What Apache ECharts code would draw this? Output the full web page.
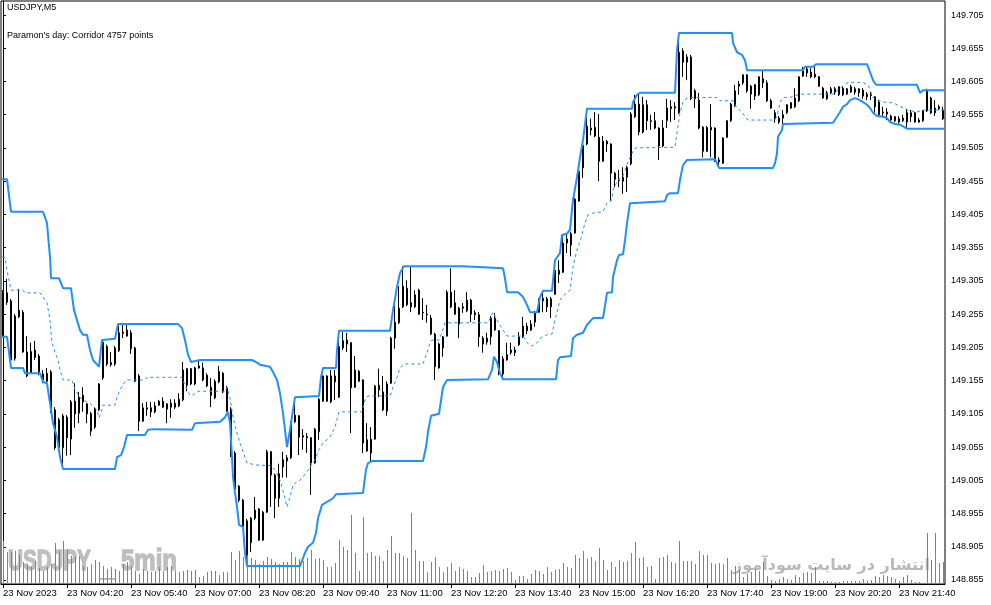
<!DOCTYPE html>
<html><head><meta charset="utf-8">
<script src="https://cdn.jsdelivr.net/npm/echarts@6/dist/echarts.min.js"></script>
<style>html,body{margin:0;padding:0;background:#fff;}#c{width:991px;height:605px;}</style>
</head><body><div id="c"></div>
<script>
const openPrices = [
149.249,149.287,149.275,149.188,149.251,149.258,149.198,149.166,149.201,149.192,
149.165,149.154,149.168,149.111,149.096,149.054,149.100,149.067,149.124,149.106,
149.133,149.120,149.105,149.085,149.111,149.159,149.206,149.182,149.180,149.200,
149.226,149.222,149.227,149.204,149.162,149.094,149.112,149.114,149.108,149.118,
149.124,149.112,149.121,149.115,149.117,149.126,149.148,149.173,149.150,149.177,
149.174,149.163,149.145,149.129,149.153,149.166,149.144,149.112,149.046,148.996,
148.975,148.944,148.911,148.960,148.962,148.915,148.957,149.048,149.013,148.978,
149.025,149.034,149.039,149.093,149.102,149.072,149.071,149.069,149.031,149.078,
149.124,149.162,149.123,149.153,149.130,149.204,149.216,149.212,149.145,149.169,
149.156,149.066,149.046,149.067,149.148,149.138,149.109,149.151,149.219,149.242,
149.266,149.269,149.272,149.266,149.291,149.258,149.255,149.249,149.225,149.174,
149.204,149.222,149.288,149.272,149.240,149.264,149.260,149.276,149.257,149.254,
149.219,149.213,149.221,149.231,149.230,149.165,149.186,149.197,149.197,149.209,
149.221,149.237,149.231,149.243,149.258,149.275,149.278,149.266,149.285,149.315,
149.318,149.368,149.359,149.377,149.425,149.475,149.511,149.532,149.536,149.521,
149.485,149.511,149.511,149.467,149.456,149.455,149.461,149.481,149.552,149.571,
149.529,149.570,149.546,149.546,149.535,149.508,149.546,149.564,149.567,149.558,
149.651,149.634,149.642,149.579,149.577,149.536,149.500,149.532,149.535,149.487,
149.482,149.521,149.546,149.568,149.601,149.603,149.615,149.586,149.600,149.585,
149.609,149.603,149.576,149.558,149.550,149.550,149.558,149.573,149.567,149.576,
149.613,149.624,149.619,149.612,149.612,149.595,149.579,149.588,149.594,149.585,
149.585,149.594,149.589,149.594,149.588,149.592,149.582,149.585,149.582,149.574,
149.559,149.556,149.553,149.552,149.549,149.546,149.558,149.552,149.558,149.547,
149.546,149.561,149.580,149.565,149.564,149.562];
const closePrices = [
149.287,149.273,149.186,149.252,149.261,149.198,149.162,149.199,149.190,149.166,
149.156,149.166,149.108,149.054,149.054,149.102,149.069,149.123,149.105,149.130,
149.123,149.105,149.079,149.112,149.150,149.213,149.180,149.179,149.204,149.227,
149.228,149.231,149.203,149.154,149.094,149.114,149.114,149.108,149.117,149.124,
149.115,149.120,149.115,149.121,149.127,149.171,149.173,149.150,149.174,149.174,
149.156,149.147,149.133,149.154,149.169,149.138,149.109,149.043,148.992,148.975,
148.935,148.893,148.948,148.948,148.915,148.957,149.048,149.013,148.978,149.015,
149.036,149.039,149.093,149.103,149.070,149.070,149.069,149.031,149.082,149.127,
149.162,149.124,149.162,149.162,149.206,149.215,149.210,149.144,149.171,149.154,
149.061,149.049,149.067,149.147,149.141,149.111,149.150,149.219,149.243,149.264,
149.297,149.294,149.266,149.284,149.255,149.257,149.254,149.225,149.176,149.210,
149.221,149.288,149.266,149.255,149.264,149.266,149.276,149.255,149.254,149.221,
149.210,149.219,149.249,149.249,149.166,149.188,149.194,149.201,149.201,149.221,
149.237,149.230,149.240,149.258,149.278,149.279,149.266,149.278,149.321,149.321,
149.362,149.362,149.376,149.428,149.470,149.509,149.538,149.535,149.523,149.485,
149.515,149.515,149.467,149.458,149.457,149.461,149.476,149.556,149.571,149.529,
149.570,149.546,149.545,149.535,149.508,149.535,149.565,149.567,149.565,149.649,
149.634,149.642,149.579,149.591,149.535,149.500,149.536,149.536,149.485,149.484,
149.520,149.546,149.571,149.591,149.598,149.615,149.591,149.598,149.583,149.612,
149.603,149.576,149.565,149.549,149.544,149.555,149.570,149.565,149.580,149.612,
149.625,149.618,149.612,149.616,149.598,149.580,149.588,149.594,149.589,149.597,
149.595,149.586,149.597,149.589,149.594,149.583,149.586,149.584,149.567,149.555,
149.558,149.559,149.547,149.546,149.544,149.550,149.544,149.558,149.544,149.544,
149.561,149.592,149.558,149.558,149.567,149.549];
const lowPrices = [
149.221,149.269,149.183,149.185,149.249,149.197,149.160,149.165,149.186,149.163,
149.151,149.151,149.106,149.051,149.048,149.022,149.042,149.043,149.084,149.091,
149.108,149.091,149.072,149.082,149.109,149.156,149.177,149.176,149.177,149.198,
149.219,149.221,149.195,149.153,149.079,149.093,149.102,149.100,149.106,149.117,
149.114,149.091,149.099,149.112,149.115,149.124,149.139,149.148,149.148,149.173,
149.154,149.145,149.115,149.127,149.151,149.136,149.108,149.040,148.990,148.972,
148.933,148.876,148.897,148.945,148.914,148.914,148.956,148.965,148.948,148.965,
149.009,149.009,149.037,149.091,149.043,149.051,149.046,148.983,149.030,149.066,
149.123,149.123,149.121,149.126,149.129,149.201,149.198,149.076,149.144,149.153,
149.046,149.048,149.033,149.066,149.130,149.109,149.102,149.150,149.203,149.240,
149.264,149.267,149.258,149.264,149.254,149.246,149.242,149.224,149.156,149.173,
149.191,149.221,149.264,149.254,149.219,149.257,149.258,149.243,149.246,149.206,
149.197,149.209,149.209,149.230,149.163,149.156,149.185,149.194,149.192,149.207,
149.219,149.225,149.230,149.236,149.257,149.258,149.258,149.249,149.284,149.302,
149.317,149.347,149.342,149.376,149.424,149.460,149.509,149.524,149.521,149.455,
149.484,149.499,149.425,149.446,149.446,149.436,149.439,149.479,149.550,149.524,
149.527,149.532,149.532,149.533,149.487,149.506,149.535,149.544,149.547,149.556,
149.612,149.607,149.577,149.565,149.533,149.491,149.499,149.491,149.484,149.475,
149.481,149.520,149.544,149.567,149.585,149.600,149.588,149.564,149.577,149.583,
149.595,149.574,149.564,149.543,149.541,149.541,149.556,149.564,149.565,149.574,
149.612,149.612,149.610,149.610,149.597,149.579,149.577,149.586,149.585,149.583,
149.583,149.585,149.588,149.585,149.582,149.579,149.577,149.577,149.558,149.552,
149.552,149.547,149.546,149.544,149.541,149.544,149.535,149.544,149.543,149.543,
149.544,149.559,149.556,149.553,149.562,149.547];
const highPrices = [
149.291,149.308,149.278,149.255,149.293,149.261,149.222,149.212,149.215,149.195,
149.171,149.174,149.171,149.115,149.099,149.105,149.103,149.126,149.151,149.138,
149.145,149.121,149.108,149.115,149.151,149.216,149.209,149.198,149.207,149.240,
149.240,149.240,149.231,149.206,149.165,149.121,149.123,149.123,149.123,149.126,
149.130,149.121,149.127,149.127,149.136,149.183,149.174,149.174,149.176,149.185,
149.182,149.166,149.159,149.157,149.177,149.168,149.147,149.115,149.049,148.998,
148.977,148.947,148.950,148.980,148.963,148.959,149.051,149.049,149.015,149.030,
149.048,149.043,149.094,149.130,149.103,149.082,149.076,149.070,149.084,149.129,
149.163,149.163,149.171,149.171,149.228,149.228,149.227,149.213,149.192,149.171,
149.157,149.091,149.085,149.148,149.173,149.162,149.154,149.221,149.269,149.297,
149.327,149.306,149.327,149.291,149.293,149.279,149.269,149.254,149.227,149.212,
149.222,149.291,149.324,149.291,149.266,149.272,149.288,149.278,149.261,149.258,
149.222,149.227,149.252,149.257,149.231,149.192,149.212,149.212,149.206,149.228,
149.251,149.242,149.246,149.260,149.279,149.288,149.281,149.281,149.336,149.336,
149.374,149.376,149.379,149.430,149.475,149.511,149.564,149.549,149.559,149.556,
149.523,149.517,149.512,149.469,149.472,149.476,149.478,149.559,149.585,149.586,
149.582,149.577,149.555,149.559,149.536,149.547,149.579,149.577,149.574,149.678,
149.655,149.646,149.645,149.594,149.588,149.538,149.538,149.571,149.536,149.491,
149.521,149.547,149.573,149.600,149.606,149.616,149.616,149.600,149.601,149.613,
149.622,149.607,149.579,149.562,149.553,149.562,149.571,149.574,149.595,149.613,
149.627,149.628,149.625,149.630,149.613,149.597,149.591,149.597,149.597,149.598,
149.597,149.595,149.600,149.597,149.595,149.595,149.589,149.589,149.583,149.577,
149.567,149.565,149.555,149.553,149.553,149.555,149.564,149.562,149.559,149.550,
149.562,149.594,149.582,149.577,149.570,149.567];
const tickVolumes = [
430,320,320,330,290,220,200,170,230,160,
130,170,200,410,330,430,350,280,270,280,
180,170,200,240,220,180,150,170,150,130,
200,220,170,130,100,150,130,120,130,170,
130,170,180,130,120,130,140,130,140,70,
80,120,130,130,90,120,120,320,240,330,
270,300,260,240,200,230,270,250,220,200,
220,220,320,270,250,230,260,340,250,260,
240,170,170,210,440,370,340,690,310,130,
670,310,320,280,280,230,340,480,310,310,
280,260,710,340,230,230,120,220,270,170,
120,170,210,130,170,150,130,70,70,110,
190,120,130,140,130,150,160,120,40,80,
80,50,100,140,130,100,170,120,140,150,
210,170,160,290,260,330,250,270,230,360,
240,140,220,170,240,220,230,310,420,260,
270,170,180,50,260,270,290,220,210,430,
230,230,230,200,330,290,290,210,200,210,
200,260,140,180,140,70,100,120,150,130,
220,80,40,30,50,70,50,40,90,70,
110,120,110,170,30,30,30,20,20,20,
30,30,30,30,30,50,30,40,80,70,
90,80,70,50,30,70,90,40,20,20,
10,510,240,510,210,220];
const upperBand = [[-0.25,149.458],[1,149.458],[2,149.409],[10,149.409],[11,149.392],[11.3,149.371],[11.75,149.341],[12,149.309],[14,149.309],[15,149.294],[17,149.294],[17.25,149.291],[17.75,149.261],[18.5,149.246],[19.25,149.231],[20,149.224],[21,149.224],[21.75,149.201],[22.5,149.186],[24,149.176],[24.75,149.216],[25.25,149.218],[28,149.218],[28.75,149.240],[43.75,149.240],[44.75,149.234],[45.5,149.216],[46.25,149.194],[47,149.183],[49.25,149.186],[62.25,149.186],[63.5,149.182],[64.25,149.179],[66.75,149.176],[67.5,149.168],[68.5,149.156],[69.25,149.136],[70,149.106],[71,149.055],[71.75,149.081],[72.5,149.111],[73,149.130],[79,149.132],[79.5,149.160],[80,149.174],[83.25,149.174],[83.5,149.201],[84,149.230],[96.75,149.230],[97.5,149.261],[98.5,149.296],[99.25,149.317],[100.25,149.327],[115,149.327],[125,149.324],[125.5,149.309],[126,149.288],[128.75,149.288],[130,149.281],[131,149.269],[131.75,149.258],[133.5,149.258],[134.25,149.281],[135,149.290],[137.25,149.290],[138,149.336],[139.25,149.347],[139.75,149.374],[141,149.376],[141.75,149.382],[142.5,149.427],[143.5,149.461],[144.25,149.491],[145,149.517],[146,149.564],[157.25,149.564],[157.5,149.574],[158.5,149.585],[159.25,149.588],[168,149.588],[168.5,149.652],[169,149.678],[182.25,149.678],[182.5,149.663],[183.5,149.649],[184.75,149.645],[185.5,149.637],[186,149.622],[200,149.622],[200.5,149.627],[202.5,149.627],[203.25,149.631],[216,149.631],[216.75,149.619],[217.5,149.607],[218.25,149.600],[228.5,149.600],[229.25,149.588],[230,149.592],[235.25,149.592]];
const lowerBand = [[-0.25,149.221],[1,149.221],[2,149.174],[5,149.174],[5.5,149.166],[9.25,149.166],[10,149.153],[11,149.151],[11.75,149.121],[12.5,149.091],[13.5,149.070],[14.25,149.040],[15,149.022],[28,149.022],[28.5,149.040],[29.5,149.043],[30.25,149.055],[31,149.073],[35.5,149.073],[36.25,149.081],[37.5,149.082],[47.25,149.081],[48,149.091],[54.25,149.093],[55.5,149.100],[56.25,149.108],[56.75,149.091],[57.25,149.040],[57.5,149.010],[58,148.986],[58.5,148.965],[59,148.938],[60,148.935],[60.5,148.896],[61,148.876],[74.25,148.876],[75.5,148.896],[76.25,148.905],[77.5,148.911],[78.25,148.926],[78.75,148.948],[79.75,148.968],[82.5,148.978],[83.25,148.984],[90,148.986],[90.75,149.021],[91.25,149.031],[92.25,149.034],[105,149.034],[105.75,149.055],[106.25,149.078],[107,149.102],[109,149.105],[109.25,149.115],[110,149.145],[111,149.156],[121.25,149.157],[122.25,149.171],[122.75,149.191],[123.5,149.183],[124.25,149.166],[125,149.157],[138.25,149.157],[138.75,149.186],[139.25,149.190],[142,149.192],[142.5,149.219],[143.5,149.224],[145,149.227],[146,149.239],[147.5,149.249],[150,149.249],[151,149.287],[152.25,149.288],[152.5,149.311],[153.5,149.336],[154,149.344],[155,149.345],[155.5,149.366],[156,149.392],[156.75,149.422],[157.25,149.425],[165.5,149.425],[166,149.434],[166.75,149.437],[168.75,149.437],[169.25,149.457],[169.75,149.472],[170,149.479],[171,149.487],[178,149.488],[178.5,149.482],[179,149.475],[192.5,149.475],[193,149.482],[193.5,149.497],[193.75,149.522],[194.75,149.532],[195,149.541],[207.5,149.543],[208.5,149.552],[209.25,149.559],[210,149.567],[211,149.571],[211.75,149.577],[213,149.580],[214.25,149.577],[215,149.574],[216,149.570],[216.75,149.565],[217.5,149.558],[218.5,149.553],[220,149.552],[221,149.550],[221.75,149.544],[223,149.541],[224.25,149.540],[226,149.534],[235.25,149.534]];
const middleBand = [[-0.25,149.341],[0.5,149.340],[1,149.321],[1.5,149.306],[2,149.291],[5,149.291],[5.5,149.287],[9.25,149.287],[10,149.281],[11,149.272],[11.75,149.246],[12.25,149.212],[13,149.198],[13.75,149.186],[14.25,149.171],[15,149.156],[17.25,149.156],[18,149.141],[19.25,149.130],[20,149.126],[21.75,149.121],[23.5,149.111],[24,149.099],[24.75,149.111],[25,149.118],[28,149.118],[28.5,149.130],[29.25,149.141],[30.25,149.151],[31,149.156],[35.5,149.156],[36,149.160],[44.75,149.160],[45.5,149.148],[46.75,149.133],[47.5,149.133],[48.75,149.139],[55.5,149.139],[56,149.145],[56.75,149.129],[57.5,149.100],[58.5,149.076],[59.25,149.061],[60,149.048],[61,149.031],[61.75,149.030],[63.5,149.028],[66.75,149.027],[68,149.021],[69.25,149.005],[70,148.990],[71,148.965],[71.75,148.980],[72.5,148.998],[73.5,149.003],[74.25,149.005],[76,149.018],[78,149.036],[79,149.051],[80,149.061],[81.75,149.070],[83,149.085],[84,149.108],[89.75,149.108],[90.5,149.126],[91.25,149.132],[96.75,149.132],[97.5,149.145],[98.5,149.160],[99.25,149.174],[100.25,149.180],[105,149.180],[106,149.197],[106.75,149.212],[107.25,149.216],[109,149.216],[109.75,149.228],[110.5,149.242],[121.25,149.242],[122.5,149.258],[123.5,149.246],[125,149.231],[126,149.222],[130,149.222],[131,149.212],[132.25,149.207],[133.5,149.212],[134.75,149.221],[136,149.224],[137.25,149.225],[138,149.246],[139.25,149.276],[140,149.282],[141.75,149.291],[142.5,149.326],[143.5,149.352],[144.25,149.364],[145.5,149.392],[146.25,149.404],[147.5,149.407],[150,149.409],[151,149.422],[152.25,149.427],[152.5,149.442],[153.75,149.457],[155,149.463],[156.25,149.484],[157.25,149.497],[158,149.505],[158.5,149.506],[168,149.506],[168.5,149.528],[169.25,149.558],[170,149.574],[171,149.580],[172.25,149.581],[178.5,149.581],[179.25,149.576],[182.5,149.576],[183.5,149.565],[184.75,149.559],[185.5,149.552],[186.25,149.547],[192.5,149.547],[193.5,149.552],[194.25,149.573],[195,149.581],[196.75,149.581],[199.25,149.586],[207.5,149.586],[209.25,149.595],[211,149.603],[213,149.604],[215,149.603],[216.25,149.600],[217.5,149.581],[219.25,149.576],[221,149.573],[222.5,149.573],[224.25,149.568],[226,149.562],[228.5,149.559],[229.75,149.562],[235.25,149.562]];
const yTickValues = [148.855,148.905,148.955,149.005,149.055,149.105,149.155,149.205,149.255,149.305,149.355,149.405,149.455,149.505,149.555,149.605,149.655,149.705];
const xTickLabels = ["23 Nov 2023","23 Nov 04:20","23 Nov 05:40","23 Nov 07:00","23 Nov 08:20","23 Nov 09:40","23 Nov 11:00","23 Nov 12:20","23 Nov 13:40","23 Nov 15:00","23 Nov 16:20","23 Nov 17:40","23 Nov 19:00","23 Nov 20:20","23 Nov 21:40"];

const N = openPrices.length;
const barTimes = [];
for (let i = 0; i < N; i++) {
  const m = 180 + 5 * i;
  barTimes.push('23 Nov ' + String(Math.floor(m / 60)).padStart(2, '0') + ':' + String(m % 60).padStart(2, '0'));
}
const candleData = openPrices.map((o, i) => [o, closePrices[i], lowPrices[i], highPrices[i]]);
const volumeData = tickVolumes.map((v, i) => [i, v]);
const FONT = '"Liberation Sans", Arial, sans-serif';
const VOL_COLOR = '#32b932';
const WM = 'rgb(190,190,190)';

const chart = echarts.init(document.getElementById('c'));
chart.setOption({
  animation: false,
  backgroundColor: '#ffffff',
  textStyle: { fontFamily: FONT },
  grid: [
    { left: 1, right: 46, top: 1, bottom: 21, show: true, borderColor: '#000', borderWidth: 1 },
    { left: 1, right: 46, top: 483, bottom: 21 }
  ],
  xAxis: [
    { type: 'category', gridIndex: 0, data: barTimes, boundaryGap: true,
      axisLine: { show: true, lineStyle: { color: '#000', width: 1 } },
      axisTick: { show: true, alignWithLabel: true, interval: (i) => i % 16 === 0, length: 4, lineStyle: { color: '#000' } },
      axisLabel: { interval: (i) => i % 16 === 0, formatter: (v, i) => (i % 16 === 0 ? xTickLabels[i / 16] : ''),
        align: 'left', margin: 4, fontSize: 9.5, color: '#000', fontFamily: FONT },
      splitLine: { show: false } },
    { type: 'value', gridIndex: 0, min: -0.5, max: N - 0.5, show: false },
    { type: 'value', gridIndex: 1, min: -0.5, max: N - 0.5, show: false }
  ],
  yAxis: [
    { type: 'value', gridIndex: 0, position: 'right', min: 148.849, max: 149.7261,
      axisLine: { show: true, lineStyle: { color: '#000' } },
      axisTick: { show: true, customValues: yTickValues, length: 3, lineStyle: { color: '#000' } },
      axisLabel: { customValues: yTickValues, formatter: (v) => v.toFixed(3), margin: 6, fontSize: 9, color: '#000', fontFamily: FONT },
      splitLine: { show: false } },
    { type: 'value', gridIndex: 1, min: 0, max: 1010, show: false }
  ],
  series: [
    { type: 'custom', name: 'Volume', xAxisIndex: 2, yAxisIndex: 1, data: volumeData, z: 2, silent: true,
      renderItem: (params, api) => {
        const top = api.coord([api.value(0), api.value(1)]);
        const base = api.coord([api.value(0), 0]);
        const x = Math.floor(top[0]);
        const y0 = Math.round(top[1]);
        return { type: 'rect', shape: { x: x, y: y0, width: 1, height: Math.round(base[1]) - y0 },
                 style: { fill: VOL_COLOR } };
      } },
    { type: 'candlestick', name: 'USDJPY', xAxisIndex: 0, yAxisIndex: 0, data: candleData, barWidth: 2,
      itemStyle: { color: '#ffffff', color0: '#000000', borderColor: '#000000', borderColor0: '#000000', borderWidth: 1 },
      z: 3, silent: true },
    { type: 'line', name: 'Upper', xAxisIndex: 1, yAxisIndex: 0, data: upperBand, showSymbol: false,
      lineStyle: { color: '#1e90ff', width: 2 }, z: 4, silent: true },
    { type: 'line', name: 'Lower', xAxisIndex: 1, yAxisIndex: 0, data: lowerBand, showSymbol: false,
      lineStyle: { color: '#1e90ff', width: 2 }, z: 4, silent: true },
    { type: 'line', name: 'Middle', xAxisIndex: 1, yAxisIndex: 0, data: middleBand, showSymbol: false,
      lineStyle: { color: '#1e90ff', width: 1, type: [3, 3] }, z: 4, silent: true }
  ],
  graphic: [
    { type: 'text', x: 7, y: 3, z: 10, style: { text: 'USDJPY,M5', font: '9px ' + FONT, fill: '#000', align: 'left', verticalAlign: 'top' } },
    { type: 'text', x: 7, y: 31, z: 10, style: { text: "Paramon's day: Corridor 4757 points", font: '9px ' + FONT, fill: '#000', align: 'left', verticalAlign: 'top' } },
    { type: 'text', x: 8, y: 547, scaleX: 0.69, z: 0, style: { text: 'USDJPY', font: 'bold 30px ' + FONT, fill: WM, stroke: WM, lineWidth: 1.5, align: 'left', verticalAlign: 'top' } },
    { type: 'rect', z: 0, shape: { x: 100, y: 578, width: 15, height: 2 }, style: { fill: WM } },
    { type: 'text', x: 121, y: 547, scaleX: 0.8, z: 0, style: { text: '5min', font: 'bold 30px ' + FONT, fill: WM, stroke: WM, lineWidth: 1.5, align: 'left', verticalAlign: 'top' } },
    { type: 'text', x: 930, y: 566, z: 0, style: { text: 'انتشار در سایت سودآموز', font: 'bold 16px "DejaVu Sans"', fill: 'rgb(185,185,185)', align: 'right', verticalAlign: 'middle' } }
  ]
});
</script>
</body></html>
